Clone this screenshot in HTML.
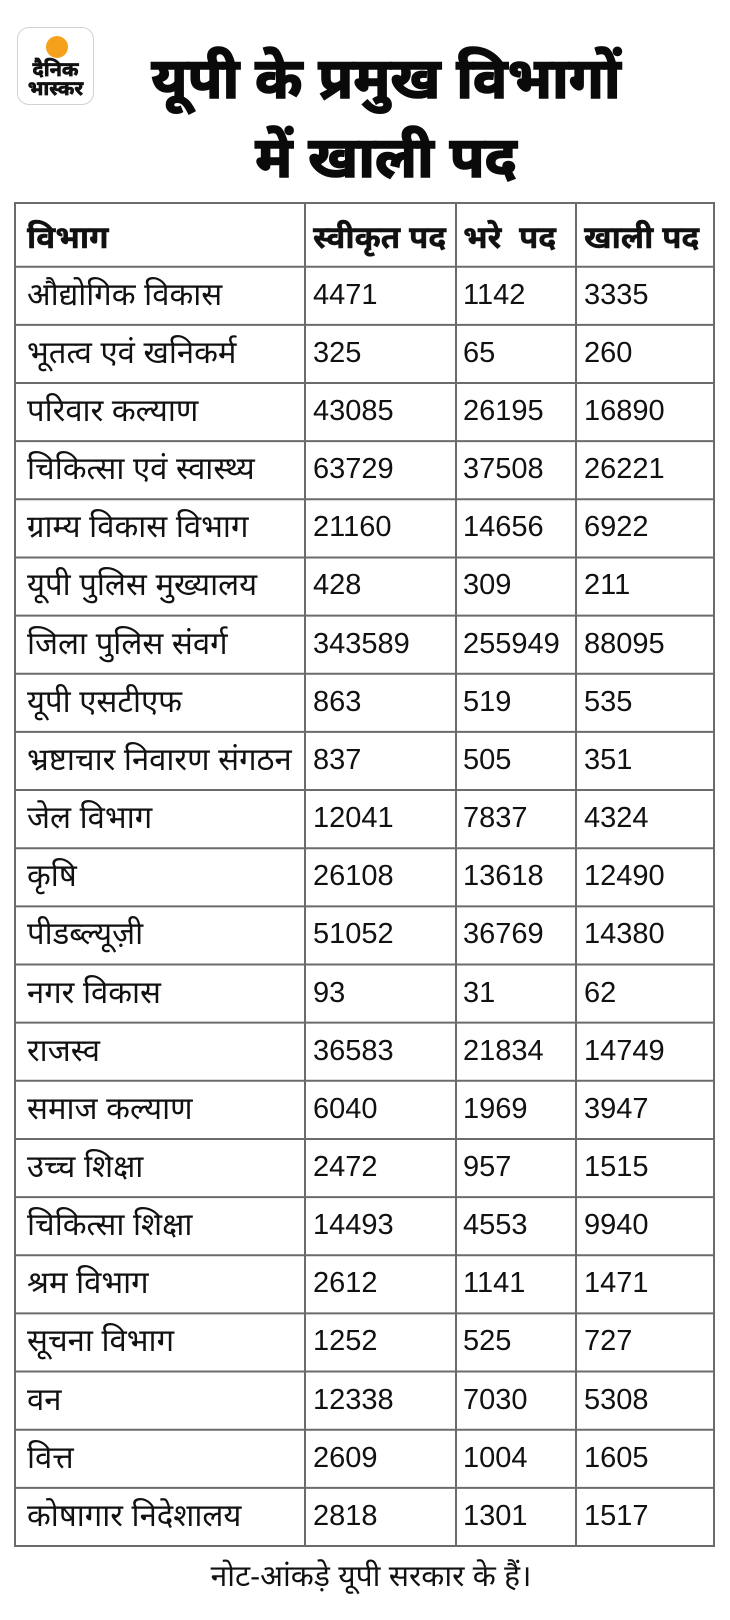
<!DOCTYPE html>
<html>
<head>
<meta charset="utf-8">
<style>
html,body{margin:0;padding:0;background:#fff;}
body{width:730px;height:1620px;position:relative;overflow:hidden;
font-family:"Liberation Sans","Noto Sans Devanagari","Lohit Devanagari","FreeSans",sans-serif;color:#111;}
.abs{position:absolute;white-space:nowrap;}
.logo{position:absolute;left:17px;top:27px;width:75px;height:76px;border:1px solid #d2d2d2;border-radius:12px;background:#fff;}
.sun{position:absolute;left:28px;top:8px;width:22px;height:22px;border-radius:50%;background:#F6A11C;}
.lt{position:absolute;left:0;width:75px;text-align:center;font-weight:bold;font-size:20px;line-height:19px;color:#111;-webkit-text-stroke:0.7px #111;}
.title{position:absolute;left:104px;width:564px;top:40px;text-align:center;font-weight:bold;font-size:57px;line-height:79px;color:#0a0a0a;-webkit-text-stroke:1.6px #0a0a0a;}
.row{position:absolute;left:0;width:730px;height:58px;line-height:58px;font-size:29px;}
.row span{position:absolute;top:-1px;white-space:nowrap;}
.row span.c1{font-size:31px;}
.c1{left:27px;}.c2{left:313px;}.c3{left:463px;}.c4{left:584px;}
.hdr{font-weight:bold;}
.hdr span{font-size:31.5px !important;top:5px !important;-webkit-text-stroke:0.4px #111;}
.note{position:absolute;left:0;width:742px;top:1561px;text-align:center;font-size:30px;line-height:32px;color:#111;}
</style>
</head>
<body>
<div class="logo">
  <div class="sun"></div>
  <div class="lt" style="top:33px;">दैनिक</div>
  <div class="lt" style="top:52px;">भास्कर</div>
</div>
<div class="title">यूपी के प्रमुख विभागों<br>में खाली पद</div>

<svg class="abs" style="left:0;top:0" width="730" height="1620" viewBox="0 0 730 1620">
<g stroke="#6b6b6b" stroke-width="2" fill="none">
<line x1="15" y1="203" x2="714" y2="203"/>
<line x1="15" y1="266.7" x2="714" y2="266.7"/>
<line x1="15" y1="324.85" x2="714" y2="324.85"/>
<line x1="15" y1="383" x2="714" y2="383"/>
<line x1="15" y1="441.15" x2="714" y2="441.15"/>
<line x1="15" y1="499.3" x2="714" y2="499.3"/>
<line x1="15" y1="557.45" x2="714" y2="557.45"/>
<line x1="15" y1="615.6" x2="714" y2="615.6"/>
<line x1="15" y1="673.75" x2="714" y2="673.75"/>
<line x1="15" y1="731.9" x2="714" y2="731.9"/>
<line x1="15" y1="790.05" x2="714" y2="790.05"/>
<line x1="15" y1="848.2" x2="714" y2="848.2"/>
<line x1="15" y1="906.35" x2="714" y2="906.35"/>
<line x1="15" y1="964.5" x2="714" y2="964.5"/>
<line x1="15" y1="1022.65" x2="714" y2="1022.65"/>
<line x1="15" y1="1080.8" x2="714" y2="1080.8"/>
<line x1="15" y1="1138.95" x2="714" y2="1138.95"/>
<line x1="15" y1="1197.1" x2="714" y2="1197.1"/>
<line x1="15" y1="1255.25" x2="714" y2="1255.25"/>
<line x1="15" y1="1313.4" x2="714" y2="1313.4"/>
<line x1="15" y1="1371.55" x2="714" y2="1371.55"/>
<line x1="15" y1="1429.7" x2="714" y2="1429.7"/>
<line x1="15" y1="1487.85" x2="714" y2="1487.85"/>
<line x1="15" y1="1546" x2="714" y2="1546"/>
<line x1="15" y1="202" x2="15" y2="1547"/>
<line x1="305" y1="202" x2="305" y2="1547"/>
<line x1="456" y1="202" x2="456" y2="1547"/>
<line x1="576" y1="202" x2="576" y2="1547"/>
<line x1="714" y1="202" x2="714" y2="1547"/>
</g>
</svg>

<div class="row hdr" style="top:203px;"><span class="c1">विभाग</span><span class="c2">स्वीकृत पद</span><span class="c3">भरे&nbsp; पद</span><span class="c4">खाली पद</span></div>

<div class="row" style="top:266.7px;"><span class="c1">औद्योगिक विकास</span><span class="c2">4471</span><span class="c3">1142</span><span class="c4">3335</span></div>
<div class="row" style="top:324.85px;"><span class="c1">भूतत्व एवं खनिकर्म</span><span class="c2">325</span><span class="c3">65</span><span class="c4">260</span></div>
<div class="row" style="top:383px;"><span class="c1">परिवार कल्याण</span><span class="c2">43085</span><span class="c3">26195</span><span class="c4">16890</span></div>
<div class="row" style="top:441.15px;"><span class="c1">चिकित्सा एवं स्वास्थ्य</span><span class="c2">63729</span><span class="c3">37508</span><span class="c4">26221</span></div>
<div class="row" style="top:499.3px;"><span class="c1">ग्राम्य विकास विभाग</span><span class="c2">21160</span><span class="c3">14656</span><span class="c4">6922</span></div>
<div class="row" style="top:557.45px;"><span class="c1">यूपी पुलिस मुख्यालय</span><span class="c2">428</span><span class="c3">309</span><span class="c4">211</span></div>
<div class="row" style="top:615.6px;"><span class="c1">जिला पुलिस संवर्ग</span><span class="c2">343589</span><span class="c3">255949</span><span class="c4">88095</span></div>
<div class="row" style="top:673.75px;"><span class="c1">यूपी एसटीएफ</span><span class="c2">863</span><span class="c3">519</span><span class="c4">535</span></div>
<div class="row" style="top:731.9px;"><span class="c1">भ्रष्टाचार निवारण संगठन</span><span class="c2">837</span><span class="c3">505</span><span class="c4">351</span></div>
<div class="row" style="top:790.05px;"><span class="c1">जेल विभाग</span><span class="c2">12041</span><span class="c3">7837</span><span class="c4">4324</span></div>
<div class="row" style="top:848.2px;"><span class="c1">कृषि</span><span class="c2">26108</span><span class="c3">13618</span><span class="c4">12490</span></div>
<div class="row" style="top:906.35px;"><span class="c1">पीडब्ल्यूज़ी</span><span class="c2">51052</span><span class="c3">36769</span><span class="c4">14380</span></div>
<div class="row" style="top:964.5px;"><span class="c1">नगर विकास</span><span class="c2">93</span><span class="c3">31</span><span class="c4">62</span></div>
<div class="row" style="top:1022.65px;"><span class="c1">राजस्व</span><span class="c2">36583</span><span class="c3">21834</span><span class="c4">14749</span></div>
<div class="row" style="top:1080.8px;"><span class="c1">समाज कल्याण</span><span class="c2">6040</span><span class="c3">1969</span><span class="c4">3947</span></div>
<div class="row" style="top:1138.95px;"><span class="c1">उच्च शिक्षा</span><span class="c2">2472</span><span class="c3">957</span><span class="c4">1515</span></div>
<div class="row" style="top:1197.1px;"><span class="c1">चिकित्सा शिक्षा</span><span class="c2">14493</span><span class="c3">4553</span><span class="c4">9940</span></div>
<div class="row" style="top:1255.25px;"><span class="c1">श्रम विभाग</span><span class="c2">2612</span><span class="c3">1141</span><span class="c4">1471</span></div>
<div class="row" style="top:1313.4px;"><span class="c1">सूचना विभाग</span><span class="c2">1252</span><span class="c3">525</span><span class="c4">727</span></div>
<div class="row" style="top:1371.55px;"><span class="c1">वन</span><span class="c2">12338</span><span class="c3">7030</span><span class="c4">5308</span></div>
<div class="row" style="top:1429.7px;"><span class="c1">वित्त</span><span class="c2">2609</span><span class="c3">1004</span><span class="c4">1605</span></div>
<div class="row" style="top:1487.85px;"><span class="c1">कोषागार निदेशालय</span><span class="c2">2818</span><span class="c3">1301</span><span class="c4">1517</span></div>

<div class="note">नोट-आंकड़े यूपी सरकार के हैं।</div>
</body>
</html>
